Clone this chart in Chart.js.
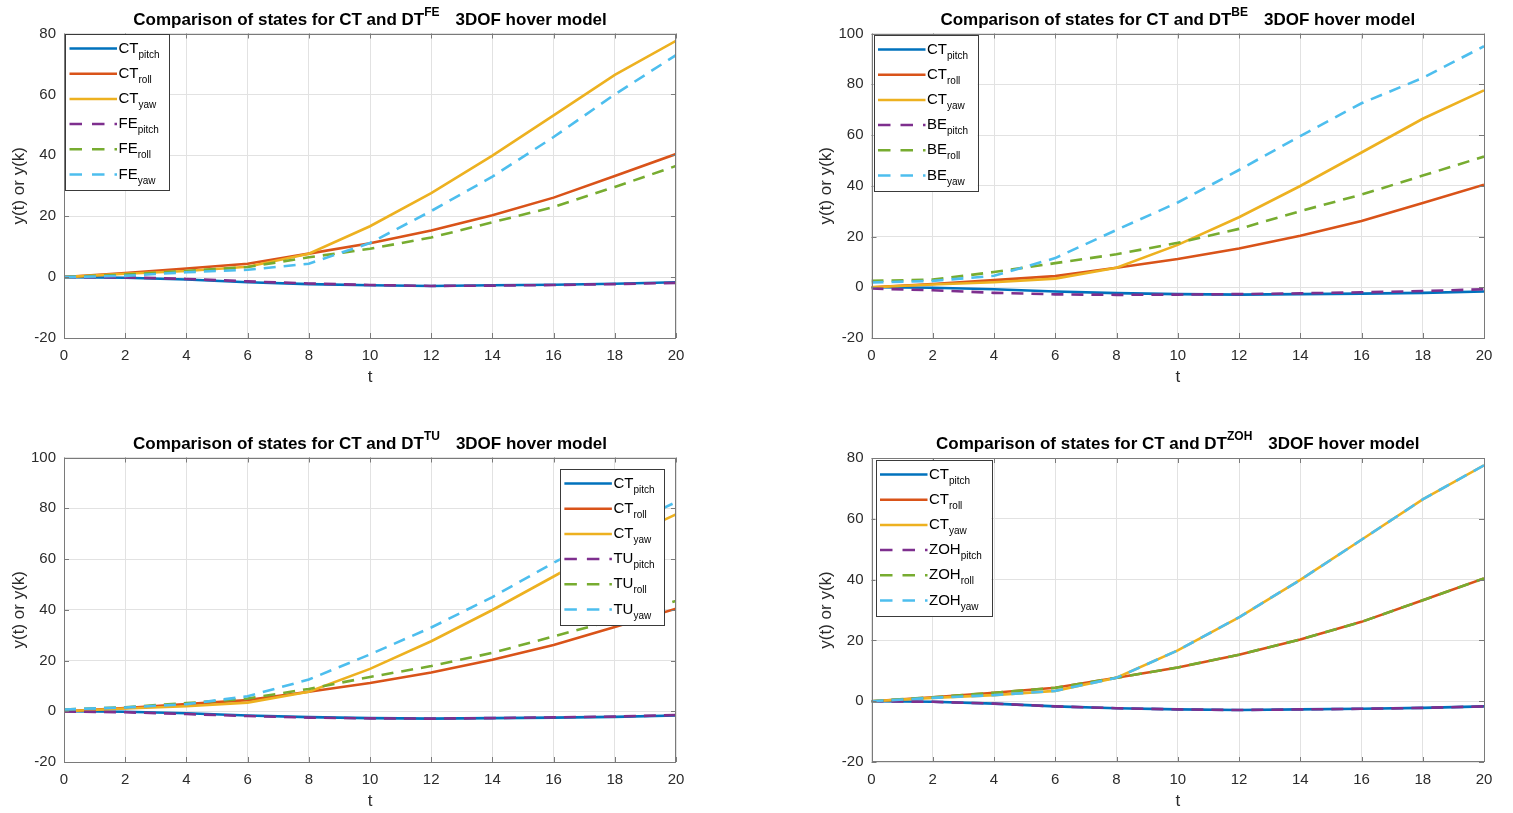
<!DOCTYPE html>
<html>
<head>
<meta charset="utf-8">
<title>Comparison of states for CT and DT 3DOF hover model</title>
<script src="https://cdn.jsdelivr.net/npm/chart.js@4.4.1/dist/chart.umd.min.js"></script>
<style>
  html, body { margin: 0; padding: 0; background: #fff; }
  body { width: 1513px; height: 813px; position: relative; overflow: hidden; }
  canvas { position: absolute; }
</style>
</head>
<body>
<canvas id="fe" width="756" height="406" style="left:0;top:0"></canvas>
<canvas id="be" width="757" height="406" style="left:756px;top:0"></canvas>
<canvas id="tu" width="756" height="407" style="left:0;top:406px"></canvas>
<canvas id="zoh" width="757" height="407" style="left:756px;top:406px"></canvas>
<script>
const FONT = "'Liberation Sans', Arial, Helvetica, sans-serif";
Chart.defaults.font.family = FONT;
Chart.defaults.color = '#2b2b2b';

// sample times
const t = [0, 2, 4, 6, 8, 10, 12, 14, 16, 18, 20];

// continuous-time model
const ctPitch = [0, -0.2, -0.8, -1.7, -2.3, -2.7, -2.9, -2.7, -2.5, -2.2, -1.7];
const ctRoll  = [0, 1.3, 2.8, 4.4, 7.7, 11.1, 15.3, 20.3, 26.1, 33.2, 40.4];
const ctYaw   = [0, 1.1, 2.0, 3.4, 7.7, 16.7, 27.6, 39.9, 53.1, 66.4, 77.6];

// forward Euler
const fePitch = [0, -0.1, -0.6, -1.4, -2.1, -2.6, -2.9, -2.8, -2.6, -2.3, -1.9];
const feRoll  = [0, 0.8, 2.0, 3.3, 6.5, 9.3, 13.0, 18.0, 23.0, 29.6, 36.5];
const feYaw   = [0, 0.4, 1.6, 2.4, 4.4, 11.2, 21.7, 33.0, 46.0, 60.0, 72.9];

// backward Euler
const bePitch = [-0.5, -1.2, -2.2, -2.8, -3.0, -2.9, -2.7, -2.4, -2.0, -1.5, -0.8];
const beRoll  = [2.5, 3.0, 6.0, 9.5, 13.0, 17.5, 23.0, 30.0, 36.5, 44.0, 51.5];
const beYaw   = [1.9, 2.5, 4.5, 11.5, 22.6, 33.4, 46.2, 59.6, 72.5, 82.5, 95.0];

// Tustin
const tuPitch = [-0.1, -0.4, -1.1, -1.9, -2.5, -2.8, -2.9, -2.7, -2.4, -2.1, -1.5];
const tuRoll  = [0.7, 1.6, 3.2, 5.0, 8.8, 13.5, 17.8, 23.0, 29.5, 36.0, 43.5];
const tuYaw   = [0.7, 1.5, 2.8, 5.9, 12.5, 22.4, 33.0, 45.0, 58.5, 71.0, 82.4];

// zero-order hold
const zohPitch = [0, -0.2, -0.8, -1.7, -2.3, -2.7, -2.9, -2.7, -2.5, -2.2, -1.7];
const zohRoll  = [0, 1.3, 2.8, 4.4, 7.7, 11.1, 15.3, 20.3, 26.1, 33.2, 40.4];
const zohYaw   = [0, 1.1, 2.0, 3.4, 7.7, 16.7, 27.6, 39.9, 53.1, 66.4, 77.6];

// axis ticks
const tTicks = [0, 2, 4, 6, 8, 10, 12, 14, 16, 18, 20];
const yTicks80 = [-20, 0, 20, 40, 60, 80];
const yTicks100 = [-20, 0, 20, 40, 60, 80, 100];

const lineColors = ['#0072BD', '#D95319', '#EDB120', '#7E2F8E', '#77AC30', '#4DBEEE'];
const axisColor = '#7a7a7a';
const gridColor = '#e2e2e2';

// title with superscript, box with inward ticks, legend with subscripts
const matlabAxes = {
  id: 'matlabAxes',
  afterDraw(chart, args, opts) {
    const ctx = chart.ctx;
    const a = chart.chartArea;
    const xs = chart.scales.x, ys = chart.scales.y;
    ctx.save();

    // axes box
    ctx.strokeStyle = axisColor;
    ctx.lineWidth = 1;
    ctx.strokeRect(Math.round(a.left) + 0.5, Math.round(a.top) + 0.5,
      Math.round(a.right - a.left) - 1, Math.round(a.bottom - a.top) - 1);
    ctx.beginPath();
    xs.ticks.forEach(tk => {
      const px = Math.round(xs.getPixelForValue(tk.value)) + 0.5;
      ctx.moveTo(px, a.bottom); ctx.lineTo(px, a.bottom - 5);
      ctx.moveTo(px, a.top); ctx.lineTo(px, a.top + 5);
    });
    ys.ticks.forEach(tk => {
      const py = Math.round(ys.getPixelForValue(tk.value)) + 0.5;
      ctx.moveTo(a.left, py); ctx.lineTo(a.left + 5, py);
      ctx.moveTo(a.right, py); ctx.lineTo(a.right - 5, py);
    });
    ctx.stroke();

    // title
    const base = 'bold 17px ' + FONT, sup = 'bold 12px ' + FONT;
    const head = 'Comparison of states for CT and DT', tail = '3DOF hover model';
    const gap = 16;
    ctx.font = base;
    const w1 = ctx.measureText(head).width, w3 = ctx.measureText(tail).width;
    ctx.font = sup;
    const w2 = ctx.measureText(opts.method).width;
    const tx = (a.left + a.right) / 2 - (w1 + w2 + gap + w3) / 2;
    const ty = a.top - 9;
    ctx.fillStyle = '#000';
    ctx.textBaseline = 'alphabetic';
    ctx.textAlign = 'left';
    ctx.font = base; ctx.fillText(head, tx, ty);
    ctx.font = sup; ctx.fillText(opts.method, tx + w1, ty - 9);
    ctx.font = base; ctx.fillText(tail, tx + w1 + w2 + gap, ty);

    // legend
    const items = chart.data.datasets.map(ds => {
      const [main, sub] = ds.label.split('_');
      return { main, sub, color: ds.borderColor, dashed: ds.borderDash.length > 0 };
    });
    const mainFont = '15px ' + FONT, subFont = '10px ' + FONT;
    let maxW = 0;
    items.forEach(it => {
      ctx.font = mainFont; it.mw = ctx.measureText(it.main).width;
      ctx.font = subFont; it.sw = ctx.measureText(it.sub).width;
      maxW = Math.max(maxW, it.mw + it.sw);
    });
    const lw = 53 + maxW + 10, lh = 156;
    const lp = opts.legend;
    const lx = lp.corner === 'ne' ? a.right - lp.dx - lw : a.left + lp.dx;
    const ly = a.top + lp.dy;
    ctx.fillStyle = '#fff';
    ctx.fillRect(lx, ly, lw, lh);
    ctx.strokeStyle = '#3a3a3a';
    ctx.lineWidth = 1;
    ctx.strokeRect(Math.round(lx) + 0.5, Math.round(ly) + 0.5, Math.round(lw), Math.round(lh));
    items.forEach((it, i) => {
      const y = ly + 14.5 + i * 25.2;
      ctx.beginPath();
      ctx.setLineDash(it.dashed ? [12.5, 10] : []);
      ctx.strokeStyle = it.color;
      ctx.lineWidth = 2.5;
      ctx.moveTo(lx + 4.5, y);
      ctx.lineTo(lx + 52, y);
      ctx.stroke();
      ctx.setLineDash([]);
      ctx.fillStyle = '#000';
      ctx.font = mainFont; ctx.fillText(it.main, lx + 53.5, y + 4);
      ctx.font = subFont; ctx.fillText(it.sub, lx + 53.5 + it.mw, y + 9);
    });
    ctx.restore();
  }
};

function drawPanel(id, method, pitch, roll, yaw, yTicks, padding, legend) {
  const series = [
    ['CT_pitch', ctPitch], ['CT_roll', ctRoll], ['CT_yaw', ctYaw],
    [method + '_pitch', pitch], [method + '_roll', roll], [method + '_yaw', yaw]
  ];
  const datasets = series.map((s, i) => ({
    label: s[0],
    data: t.map((tv, k) => ({ x: tv, y: s[1][k] })),
    borderColor: lineColors[i],
    borderWidth: 2.6,
    borderDash: i >= 3 ? [12, 8] : [],
    pointRadius: 0,
    tension: 0,
    fill: false,
    order: 6 - i  // later series on top
  }));

  return new Chart(document.getElementById(id), {
    type: 'line',
    data: { datasets },
    options: {
      responsive: false,
      animation: false,
      devicePixelRatio: 1,
      layout: { padding },
      plugins: {
        legend: { display: false },
        tooltip: { enabled: false },
        matlabAxes: { method, legend }
      },
      scales: {
        x: {
          type: 'linear',
          min: tTicks[0],
          max: tTicks[tTicks.length - 1],
          afterBuildTicks: s => { s.ticks = tTicks.map(v => ({ value: v })); },
          ticks: { font: { size: 15 }, padding: 9, maxRotation: 0, autoSkip: false },
          grid: { color: gridColor, drawTicks: false },
          border: { display: false },
          title: { display: true, text: 't', font: { size: 17 }, color: '#2b2b2b', padding: { top: 0, bottom: 0 } },
          afterFit: s => { s.height = 50; }
        },
        y: {
          type: 'linear',
          min: yTicks[0],
          max: yTicks[yTicks.length - 1],
          afterBuildTicks: s => { s.ticks = yTicks.map(v => ({ value: v })); },
          ticks: { font: { size: 15 }, padding: 8 },
          grid: { color: gridColor, drawTicks: false },
          border: { display: false },
          title: { display: true, text: 'y(t) or y(k)', font: { size: 17 }, color: '#2b2b2b', padding: { top: 9, bottom: 0 } },
          afterFit: s => { s.width = 64; }
        }
      }
    },
    plugins: [matlabAxes]
  });
}

drawPanel('fe', 'FE', fePitch, feRoll, feYaw, yTicks80,
  { left: 0, top: 33.5, right: 80, bottom: 18 }, { corner: 'nw', dx: 1, dy: 0.5 });
drawPanel('be', 'BE', bePitch, beRoll, beYaw, yTicks100,
  { left: 51.5, top: 33.5, right: 29, bottom: 18 }, { corner: 'nw', dx: 2, dy: 1.5 });
drawPanel('tu', 'TU', tuPitch, tuRoll, tuYaw, yTicks100,
  { left: 0, top: 51.5, right: 80, bottom: 1 }, { corner: 'ne', dx: 12, dy: 11.5 });
drawPanel('zoh', 'ZOH', zohPitch, zohRoll, zohYaw, yTicks80,
  { left: 51.5, top: 52, right: 29, bottom: 1 }, { corner: 'nw', dx: 4, dy: 2 });
</script>
</body>
</html>
